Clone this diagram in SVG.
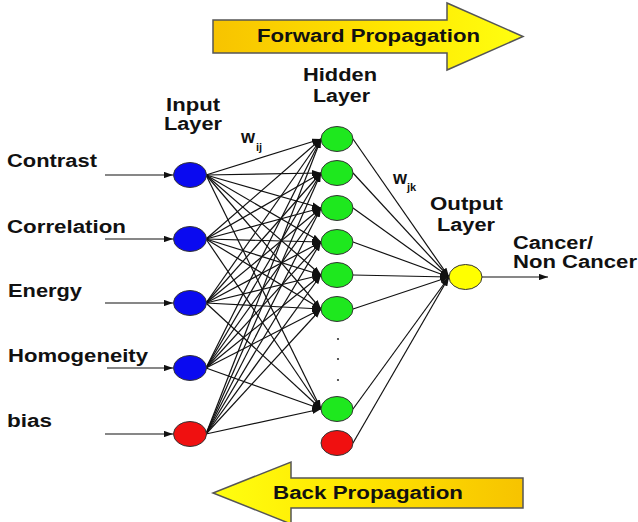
<svg xmlns="http://www.w3.org/2000/svg" width="638" height="522" viewBox="0 0 638 522">
<style>
.t{font-family:"Liberation Sans",Arial,sans-serif;font-weight:bold;font-size:18px;fill:#111}
.s{font-family:"Liberation Sans",Arial,sans-serif;font-weight:bold;font-size:11px;fill:#111}
.w{font-family:"Liberation Sans",Arial,sans-serif;font-weight:bold;font-size:19px;fill:#111}
.c line{stroke:#111;stroke-width:1.2;marker-end:url(#ah)}
.n{stroke:#333;stroke-width:1}
.blue{fill:#0a0af0}.green{fill:#1ee81e}.red{fill:#f01010}.yel{fill:#ffff00}
.arr{stroke:#555;stroke-width:1.5}
</style>
<defs>
<marker id="ah" viewBox="0 0 10 7" refX="10" refY="3.5" markerWidth="9" markerHeight="6.5" markerUnits="userSpaceOnUse" orient="auto">
<path d="M0,0 L10,3.5 L0,7 z" fill="#111"/>
</marker>
<linearGradient id="gf" x1="0" y1="0" x2="1" y2="0">
<stop offset="0" stop-color="#f7c300"/><stop offset="0.55" stop-color="#ffe600"/><stop offset="1" stop-color="#ffff10"/>
</linearGradient>
<linearGradient id="gb" x1="0" y1="0" x2="1" y2="0">
<stop offset="0" stop-color="#ffff10"/><stop offset="0.45" stop-color="#ffe600"/><stop offset="1" stop-color="#f7c300"/>
</linearGradient>
</defs>
<rect width="638" height="522" fill="#fff"/>

<g id="forward-arrow">
<path class="arr" d="M213,20 H447 V3 L523,36.5 L447,70 V53 H213 Z" fill="url(#gf)"/>
<text class="t" x="257" y="42" textLength="223" lengthAdjust="spacingAndGlyphs">Forward Propagation</text>
</g>
<g id="back-arrow">
<path class="arr" d="M523,478 H291 V462 L213,493 L291,524 V508 H523 Z" fill="url(#gb)"/>
<text class="t" x="273" y="499" textLength="190" lengthAdjust="spacingAndGlyphs">Back Propagation</text>
</g>

<g id="labels">
<text class="t" x="166" y="111" textLength="54" lengthAdjust="spacingAndGlyphs">Input</text>
<text class="t" x="164" y="130" textLength="58" lengthAdjust="spacingAndGlyphs">Layer</text>
<text class="t" x="303" y="81" textLength="74" lengthAdjust="spacingAndGlyphs">Hidden</text>
<text class="t" x="313" y="102" textLength="57" lengthAdjust="spacingAndGlyphs">Layer</text>
<text class="t" x="430" y="210" textLength="73" lengthAdjust="spacingAndGlyphs">Output</text>
<text class="t" x="437" y="231" textLength="58" lengthAdjust="spacingAndGlyphs">Layer</text>
<text class="w" x="241" y="143" textLength="14" lengthAdjust="spacingAndGlyphs">w</text>
<text class="s" x="256" y="151">ij</text>
<text class="w" x="393" y="184" textLength="14" lengthAdjust="spacingAndGlyphs">w</text>
<text class="s" x="407" y="191">jk</text>
</g>

<g id="connectors" class="c">
<line x1="105" y1="175" x2="173" y2="175"/>
<line x1="105" y1="239" x2="173" y2="239"/>
<line x1="105" y1="303" x2="173" y2="303"/>
<line x1="107" y1="368" x2="173" y2="368"/>
<line x1="105" y1="434" x2="173" y2="434"/>

<line x1="206" y1="175" x2="321" y2="139"/>
<line x1="206" y1="175" x2="321" y2="173"/>
<line x1="206" y1="175" x2="321" y2="208"/>
<line x1="206" y1="175" x2="321" y2="242"/>
<line x1="206" y1="175" x2="321" y2="275"/>
<line x1="206" y1="175" x2="321" y2="309"/>
<line x1="206" y1="175" x2="321" y2="409"/>

<line x1="206" y1="239" x2="321" y2="139"/>
<line x1="206" y1="239" x2="321" y2="173"/>
<line x1="206" y1="239" x2="321" y2="208"/>
<line x1="206" y1="239" x2="321" y2="242"/>
<line x1="206" y1="239" x2="321" y2="275"/>
<line x1="206" y1="239" x2="321" y2="309"/>
<line x1="206" y1="239" x2="321" y2="409"/>

<line x1="206" y1="303" x2="321" y2="139"/>
<line x1="206" y1="303" x2="321" y2="173"/>
<line x1="206" y1="303" x2="321" y2="208"/>
<line x1="206" y1="303" x2="321" y2="242"/>
<line x1="206" y1="303" x2="321" y2="275"/>
<line x1="206" y1="303" x2="321" y2="309"/>
<line x1="206" y1="303" x2="321" y2="409"/>

<line x1="206" y1="368" x2="321" y2="139"/>
<line x1="206" y1="368" x2="321" y2="173"/>
<line x1="206" y1="368" x2="321" y2="208"/>
<line x1="206" y1="368" x2="321" y2="242"/>
<line x1="206" y1="368" x2="321" y2="275"/>
<line x1="206" y1="368" x2="321" y2="309"/>
<line x1="206" y1="368" x2="321" y2="409"/>

<line x1="206" y1="434" x2="321" y2="139"/>
<line x1="206" y1="434" x2="321" y2="173"/>
<line x1="206" y1="434" x2="321" y2="208"/>
<line x1="206" y1="434" x2="321" y2="242"/>
<line x1="206" y1="434" x2="321" y2="275"/>
<line x1="206" y1="434" x2="321" y2="309"/>
<line x1="206" y1="434" x2="321" y2="409"/>

<line x1="353" y1="139" x2="449" y2="277"/>
<line x1="353" y1="173" x2="449" y2="277"/>
<line x1="353" y1="208" x2="449" y2="277"/>
<line x1="353" y1="242" x2="449" y2="277"/>
<line x1="353" y1="275" x2="449" y2="277"/>
<line x1="353" y1="309" x2="449" y2="277"/>
<line x1="353" y1="409" x2="449" y2="277"/>
<line x1="353" y1="443" x2="449" y2="277"/>

<line x1="482" y1="277" x2="548" y2="277"/>
</g>

<g id="input-contrast"><text class="t" x="7" y="167" textLength="90" lengthAdjust="spacingAndGlyphs">Contrast</text><ellipse class="n blue" cx="190" cy="175" rx="16.5" ry="12.5"/></g>
<g id="input-correlation"><text class="t" x="7" y="233" textLength="119" lengthAdjust="spacingAndGlyphs">Correlation</text><ellipse class="n blue" cx="190" cy="239" rx="16.5" ry="12.5"/></g>
<g id="input-energy"><text class="t" x="8" y="297" textLength="74" lengthAdjust="spacingAndGlyphs">Energy</text><ellipse class="n blue" cx="190" cy="303" rx="16.5" ry="12.5"/></g>
<g id="input-homogeneity"><text class="t" x="8" y="362" textLength="140" lengthAdjust="spacingAndGlyphs">Homogeneity</text><ellipse class="n blue" cx="190" cy="368" rx="16.5" ry="12.5"/></g>
<g id="input-bias"><text class="t" x="7" y="427" textLength="45" lengthAdjust="spacingAndGlyphs">bias</text><ellipse class="n red" cx="190" cy="434" rx="16.5" ry="12.5"/></g>

<g id="hidden-1"><ellipse class="n green" cx="337" cy="139" rx="16" ry="12.5"/></g>
<g id="hidden-2"><ellipse class="n green" cx="337" cy="173" rx="16" ry="12.5"/></g>
<g id="hidden-3"><ellipse class="n green" cx="337" cy="208" rx="16" ry="12.5"/></g>
<g id="hidden-4"><ellipse class="n green" cx="337" cy="242" rx="16" ry="12.5"/></g>
<g id="hidden-5"><ellipse class="n green" cx="337" cy="275" rx="16" ry="12.5"/></g>
<g id="hidden-6"><ellipse class="n green" cx="337" cy="309" rx="16" ry="12.5"/></g>
<g id="hidden-dots" fill="#333"><circle cx="338" cy="339" r="1.1"/><circle cx="338" cy="359" r="1.1"/><circle cx="338" cy="380" r="1.1"/></g>
<g id="hidden-n"><ellipse class="n green" cx="337" cy="409" rx="16" ry="12.5"/></g>
<g id="hidden-bias"><ellipse class="n red" cx="337" cy="443" rx="16" ry="12.5"/></g>

<g id="output"><ellipse class="n yel" cx="465.5" cy="277" rx="16.5" ry="12.5"/>
<text class="t" x="513" y="249" textLength="80" lengthAdjust="spacingAndGlyphs">Cancer/</text>
<text class="t" x="513" y="268" textLength="124" lengthAdjust="spacingAndGlyphs">Non Cancer</text></g>
</svg>
